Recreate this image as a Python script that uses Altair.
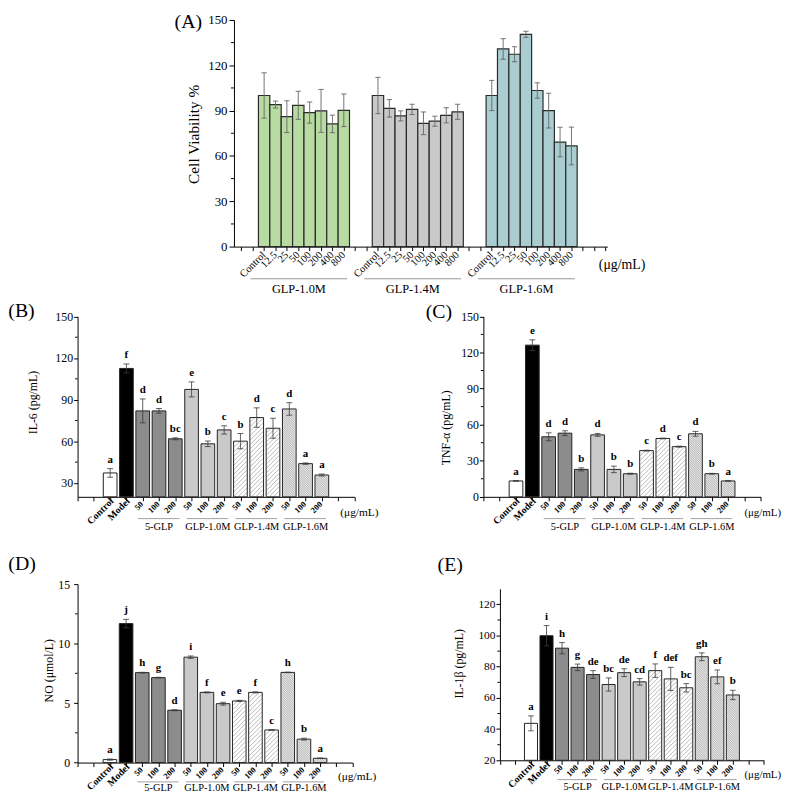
import math
import altair as alt
import pandas as pd

FONT = "Liberation Serif"

# ---------------- Panel A : cell viability ----------------
a_doses = ["Control", "12.5", "25", "50", "100", "200", "400", "800"]
a_groups = ["GLP-1.0M", "GLP-1.4M", "GLP-1.6M"]
a_colors = ["#b7dba1", "#c9c9c9", "#a9cdd1"]
a_val_10 = [100.0, 94.0, 86.0, 93.5, 88.7, 89.8, 81.2, 90.2]
a_err_10 = [15.0, 2.3, 10.5, 9.3, 7.0, 14.2, 5.8, 10.8]
a_val_14 = [100.0, 91.5, 86.5, 90.8, 81.6, 83.0, 86.9, 89.2]
a_err_14 = [12.0, 5.8, 3.3, 3.4, 7.5, 3.3, 5.0, 5.0]
a_val_16 = [100.0, 130.8, 127.3, 140.5, 103.3, 90.0, 69.2, 66.6]
a_err_16 = [10.0, 6.8, 5.0, 2.0, 5.1, 11.5, 9.8, 12.5]

# ---------------- Panels B-E ----------------
bar_labels = ["Control", "Model", "50", "100", "200", "50", "100", "200",
              "50", "100", "200", "50", "100", "200"]
bar_style = ["control", "model"] + ["g5"] * 3 + ["g10"] * 3 + ["g14"] * 3 + ["g16"] * 3
group_names = ["5-GLP", "GLP-1.0M", "GLP-1.4M", "GLP-1.6M"]

il6_val = [37.2, 112.5, 81.9, 81.9, 61.8, 97.4, 58.2, 68.2, 60.1, 77.1, 69.4, 83.3, 43.9, 35.7]
il6_err = [3.1, 3.2, 8.6, 1.7, 0.7, 5.4, 2.0, 3.0, 5.5, 7.0, 7.2, 4.5, 0.5, 0.7]
il6_sig = ["a", "f", "d", "d", "bc", "e", "b", "c", "b", "d", "c", "d", "a", "a"]

tnf_val = [13.2, 126.1, 49.9, 52.9, 22.8, 51.5, 22.8, 19.2, 38.4, 48.5, 41.7, 52.4, 19.2, 13.2]
tnf_err = [0.3, 4.4, 3.3, 2.0, 1.3, 1.2, 2.7, 0.4, 0.3, 0.3, 0.4, 2.0, 0.3, 0.2]
tnf_sig = ["a", "e", "d", "d", "b", "d", "b", "b", "c", "d", "c", "d", "b", "a"]

no_val = [0.25, 11.68, 7.56, 7.14, 4.40, 8.86, 5.90, 4.95, 5.18, 5.90, 2.74, 7.58, 1.97, 0.36]
no_err = [0.05, 0.36, 0.03, 0.03, 0.04, 0.10, 0.04, 0.12, 0.05, 0.04, 0.02, 0.02, 0.08, 0.02]
no_sig = ["a", "j", "h", "g", "d", "i", "f", "e", "e", "f", "c", "h", "b", "a"]

il1b_val = [43.7, 99.9, 91.9, 79.6, 75.0, 68.6, 76.2, 70.3, 77.5, 72.2, 66.5, 86.4, 73.5, 61.9]
il1b_err = [4.8, 6.5, 3.6, 2.1, 2.5, 4.2, 2.5, 2.1, 4.3, 7.4, 2.7, 2.5, 4.4, 3.0]
il1b_sig = ["a", "i", "h", "g", "de", "bc", "de", "cd", "f", "def", "bc", "gh", "ef", "b"]

FILL = {"control": "#ffffff", "model": "#000000", "g5": "#8c8c8c",
        "g10": "#c9c9c9", "g14": "#ffffff", "g16": "#e4e4e4"}
HATCH = {"g14": (4.5, 1, "#8a8a8a"), "g16": (2.3, -1, "#9a9a9a")}

# whole figure is one view; every panel has its own scales placed inside it
VW, VH = 693.4, 750.3


def yaxis(values, title, offset, tx, ty, lsize=12, tsize=12, tick=4, pad=1):
    return alt.Axis(orient="left", offset=offset, values=values, title=title,
                    titleX=tx, titleY=ty, titleAngle=270,
                    titleAlign="center", titleBaseline="middle", titleFont=FONT,
                    titleFontSize=tsize, titleFontWeight="normal", titleColor="black",
                    labelFont=FONT, labelFontSize=lsize, labelColor="black",
                    labelPadding=pad, labelFlush=False, labelOverlap=False,
                    tickSize=tick, tickColor="black", tickWidth=1,
                    domainColor="black", domainWidth=1, grid=False)


def xaxis(values, offset):
    return alt.Axis(orient="bottom", offset=offset, values=values, labels=False,
                    title=None, tickSize=4, tickColor="black", tickWidth=1,
                    domainColor="black", domainWidth=1, grid=False)


def hatch_rows(df, sx, sy, ymin):
    out = []
    for _, r in df.iterrows():
        spec = HATCH.get(r["style"])
        if spec is None:
            continue
        step, direction, col = spec
        u0, u1 = r["x0"] * sx + 0.6, r["x1"] * sx - 0.6
        v0, v1 = 0.6, (r["v"] - ymin) * sy - 0.6
        if v1 <= v0:
            continue
        if direction > 0:
            kmin = math.ceil((v0 - u1) / step)
            kmax = math.floor((v1 - u0) / step)
            for k in range(kmin, kmax + 1):
                c = k * step
                ua, ub = max(u0, v0 - c), min(u1, v1 - c)
                if ub - ua > 0.3:
                    out.append({"hx0": ua / sx, "hy0": ymin + (ua + c) / sy,
                                "hx1": ub / sx, "hy1": ymin + (ub + c) / sy, "hc": col})
        else:
            kmin = math.ceil((v0 + u0) / step)
            kmax = math.floor((v1 + u1) / step)
            for k in range(kmin, kmax + 1):
                c = k * step
                ua, ub = max(u0, c - v1), min(u1, c - v0)
                if ub - ua > 0.3:
                    out.append({"hx0": ua / sx, "hy0": ymin + (c - ua) / sy,
                                "hx1": ub / sx, "hy1": ymin + (c - ub) / sy, "hc": col})
    return pd.DataFrame(out)


def text_layer(txt, x, y, size, baseline="middle"):
    return alt.Chart(pd.DataFrame({"t": [txt]})).mark_text(
        font=FONT, fontSize=size, align="left", baseline=baseline,
        color="black").encode(text="t:N", x=alt.value(x), y=alt.value(y))


def build_a():
    xr, yr = (158.0, 535.2), (229.0, 0.0)
    xmin, xmax = 0.35, 33.15
    axy = yr[0]
    rows = []
    series = [(a_val_10, a_err_10), (a_val_14, a_err_14), (a_val_16, a_err_16)]
    for gi, (vals, errs) in enumerate(series):
        for di, dose in enumerate(a_doses):
            rows.append({"x": 3 + 10 * gi + di, "v": vals[di], "e": errs[di],
                         "fill": a_colors[gi], "lab": dose})
    df = pd.DataFrame(rows)
    df["x0"] = df["x"] - 0.5
    df["x1"] = df["x"] + 0.5
    df["base"] = 0.0
    df["lo"] = df["v"] - df["e"]
    df["hi"] = df["v"] + df["e"]
    df["c0"] = df["x"] - 0.23
    df["c1"] = df["x"] + 0.23

    xsc = alt.Scale(domain=[xmin, xmax], range=list(xr), nice=False, zero=False)
    ysc = alt.Scale(domain=[0, 150], range=list(yr), nice=False, zero=False)
    ax = xaxis(list(range(1, 34)), axy - VH)
    ay = yaxis([0, 30, 60, 90, 120, 150], "Cell Viability %", -xr[0], -41.3, 115,
               lsize=13, tsize=15.5, tick=5, pad=2)

    def X(f):
        return alt.X(f, scale=xsc, axis=ax)

    def Y(f):
        return alt.Y(f, scale=ysc, axis=ay)

    bars = alt.Chart(df).mark_rect(stroke="#2a2a2a", strokeWidth=1.2).encode(
        x=X("x0:Q"), x2="x1:Q", y=Y("v:Q"), y2="base:Q",
        color=alt.Color("fill:N", scale=None))
    ecol = "#666666"
    err = alt.Chart(df).mark_rule(color=ecol, strokeWidth=0.9).encode(
        x=X("x:Q"), y=Y("lo:Q"), y2="hi:Q")
    capt = alt.Chart(df).mark_rule(color=ecol, strokeWidth=0.9).encode(
        x=X("c0:Q"), x2="c1:Q", y=Y("hi:Q"))
    capb = alt.Chart(df).mark_rule(color=ecol, strokeWidth=0.9).encode(
        x=X("c0:Q"), x2="c1:Q", y=Y("lo:Q"))
    labs = alt.Chart(df).mark_text(font=FONT, fontSize=10.5, angle=315, align="right",
                                   baseline="middle", color="black").encode(
        x=X("x:Q"), y=alt.value(axy + 7), text="lab:N")
    gdf = pd.DataFrame({"g": a_groups, "first": [3, 13, 23], "last": [10, 20, 30]})
    gdf["g0"] = gdf["first"] - 1.2
    gdf["g1"] = gdf["last"] + 0.3
    gdf["gc"] = (gdf["g0"] + gdf["g1"]) / 2
    glines = alt.Chart(gdf).mark_rule(color="#8a8a8a", strokeWidth=0.9).encode(
        x=X("g0:Q"), x2="g1:Q", y=alt.value(axy + 32.5))
    glabs = alt.Chart(gdf).mark_text(font=FONT, fontSize=12.5, color="black").encode(
        x=X("gc:Q"), y=alt.value(axy + 43), text="g:N")
    udf = pd.DataFrame({"t": ["(μg/mL)"], "ux": [32.4]})
    unit = alt.Chart(udf).mark_text(font=FONT, fontSize=14, align="left",
                                    baseline="middle", color="black").encode(
        x=X("ux:Q"), y=alt.value(axy + 19), text="t:N")
    mdf = pd.DataFrame({"m": [15, 45, 75, 105, 135]})
    minor = alt.Chart(mdf).mark_rule(color="black", strokeWidth=1).encode(
        y=Y("m:Q"), x=alt.value(xr[0]), x2=alt.value(xr[0] - 3))
    letter = text_layer("(A)", 98.0, -8, 20, baseline="top")
    return alt.layer(bars, err, capt, capb, labs, glines, glabs, unit, minor, letter)


def build_panel(vals, errs, sigs, P):
    xr, yr = P["xr"], P["yr"]
    ymin, ymax = P["ydom"]
    axy = yr[0]
    sx = (xr[1] - xr[0]) / 17.0
    sy = (yr[0] - yr[1]) / (ymax - ymin)
    df = pd.DataFrame({"x": [2 + i for i in range(len(vals))], "v": vals, "e": errs,
                       "sig": sigs, "style": bar_style, "lab": bar_labels})
    df["x0"] = df["x"] - 0.42
    df["x1"] = df["x"] + 0.42
    df["base"] = ymin
    df["lo"] = df["v"] - df["e"]
    df["hi"] = df["v"] + df["e"]
    df["c0"] = df["x"] - 0.18
    df["c1"] = df["x"] + 0.18
    df["fill"] = df["style"].map(FILL)

    xsc = alt.Scale(domain=[0, 17], range=list(xr), nice=False, zero=False)
    ysc = alt.Scale(domain=[ymin, ymax], range=list(yr), nice=False, zero=False)
    ax = xaxis(list(range(0, 18)), axy - VH)
    ay = yaxis(P["major"], P["title"], -xr[0], P["tx"], P["ty"],
               lsize=P.get("lsize", 12), pad=P.get("pad", 1))

    def X(f):
        return alt.X(f, scale=xsc, axis=ax)

    def Y(f):
        return alt.Y(f, scale=ysc, axis=ay)

    bars = alt.Chart(df).mark_rect(strokeWidth=0).encode(
        x=X("x0:Q"), x2="x1:Q", y=Y("v:Q"), y2="base:Q",
        color=alt.Color("fill:N", scale=None))
    hd = hatch_rows(df, sx, sy, ymin)
    hatch = alt.Chart(hd).mark_rule(strokeWidth=0.6).encode(
        x=X("hx0:Q"), x2="hx1:Q", y=Y("hy0:Q"), y2="hy1:Q",
        color=alt.Color("hc:N", scale=None))
    outline = alt.Chart(df).mark_rect(fillOpacity=0, stroke="#222222", strokeWidth=1).encode(
        x=X("x0:Q"), x2="x1:Q", y=Y("v:Q"), y2="base:Q")
    ecol = "#3a3a3a"
    err = alt.Chart(df).mark_rule(color=ecol, strokeWidth=0.8).encode(
        x=X("x:Q"), y=Y("lo:Q"), y2="hi:Q")
    capt = alt.Chart(df).mark_rule(color=ecol, strokeWidth=0.8).encode(
        x=X("c0:Q"), x2="c1:Q", y=Y("hi:Q"))
    capb = alt.Chart(df).mark_rule(color=ecol, strokeWidth=0.8).encode(
        x=X("c0:Q"), x2="c1:Q", y=Y("lo:Q"))
    letters = alt.Chart(df).mark_text(font=FONT, fontSize=11, fontWeight="bold",
                                      baseline="bottom", dy=-4, color="black").encode(
        x=X("x:Q"), y=Y("hi:Q"), text="sig:N")

    main = df[df["style"].isin(["control", "model"])].copy()
    main["lx"] = main["x"] + 2.0 / sx
    dose = df[~df["style"].isin(["control", "model"])].copy()
    dose["lx"] = dose["x"] - 1.0 / sx
    lab_main = alt.Chart(main).mark_text(font=FONT, fontSize=10, fontWeight="bold",
                                         angle=315, align="right", baseline="middle",
                                         color="black").encode(
        x=X("lx:Q"), y=alt.value(axy + 3), text="lab:N")
    lab_dose = alt.Chart(dose).mark_text(font=FONT, fontSize=8.5, fontWeight="bold",
                                         angle=315, align="right", baseline="middle",
                                         color="black").encode(
        x=X("lx:Q"), y=alt.value(axy + 6), text="lab:N")

    gdf = pd.DataFrame({"g": group_names, "first": [4, 7, 10, 13], "last": [6, 9, 12, 15]})
    gdf["g0"] = gdf["first"] - 0.3
    gdf["g1"] = gdf["last"] + 0.25
    gdf["gc"] = (gdf["first"] + gdf["last"]) / 2
    glines = alt.Chart(gdf).mark_rule(color="#8a8a8a", strokeWidth=0.8).encode(
        x=X("g0:Q"), x2="g1:Q", y=alt.value(axy + P["gl"]))
    glabs = alt.Chart(gdf).mark_text(font=FONT, fontSize=10.5, color="black").encode(
        x=X("gc:Q"), y=alt.value(axy + P["gt"]), text="g:N")
    udf = pd.DataFrame({"t": ["(μg/mL)"], "ux": [P["ux"]]})
    unit = alt.Chart(udf).mark_text(font=FONT, fontSize=P.get("ufs", 12), align="left",
                                    baseline="middle", color="black").encode(
        x=X("ux:Q"), y=alt.value(axy + P["uy"]), text="t:N")
    mdf = pd.DataFrame({"m": P["minor"]})
    minor = alt.Chart(mdf).mark_rule(color="black", strokeWidth=1).encode(
        y=Y("m:Q"), x=alt.value(xr[0]), x2=alt.value(xr[0] - 2.5))
    letter = text_layer(P["letter"], P["lxy"][0], P["lxy"][1], 20)
    return alt.layer(bars, hatch, outline, err, capt, capb, letters, lab_main, lab_dose,
                     glines, glabs, unit, minor, letter)


panel_a = build_a()
panel_b = build_panel(il6_val, il6_err, il6_sig, {
    "xr": (0.0, 279.7), "yr": (481.8, 299.5), "ydom": (20, 150),
    "major": [30, 60, 90, 120, 150], "minor": [45, 75, 105, 135],
    "title": "IL-6 (pg/mL)", "tx": -45, "ty": 386, "letter": "(B)", "lxy": (-70, 294),
    "ux": 16.13, "uy": 16.3, "gl": 22, "gt": 30.5, "ufs": 11.5})
panel_c = build_panel(tnf_val, tnf_err, tnf_sig, {
    "xr": (410.0, 690.2), "yr": (481.8, 299.5), "ydom": (0, 150),
    "major": [0, 30, 60, 90, 120, 150], "minor": [15, 45, 75, 105, 135],
    "title": "TNF-α (pg/mL)", "tx": -38, "ty": 411.5, "letter": "(C)", "lxy": (351.7, 295),
    "ux": 16.0, "uy": 16.5, "gl": 22, "gt": 30.5, "ufs": 11})
panel_d = build_panel(no_val, no_err, no_sig, {
    "xr": (0.0, 277.7), "yr": (750.3, 570.0), "ydom": (0, 15),
    "major": [0, 5, 10, 15], "minor": [2.5, 7.5, 12.5],
    "title": "NO (μmol/L)", "tx": -29.3, "ty": 657, "pad": 4,
    "letter": "(D)", "lxy": (-70, 550), "ux": 16.1, "uy": 14.4, "gl": 19.5, "gt": 26,
    "ufs": 11.5})
panel_e = build_panel(il1b_val, il1b_err, il1b_sig, {
    "xr": (426.7, 693.4), "yr": (748.0, 574.7), "ydom": (20, 130),
    "major": [20, 40, 60, 80, 100, 120], "minor": [30, 50, 70, 90, 110],
    "title": "IL-1β (pg/mL)", "tx": -42, "ty": 650, "lsize": 11.5,
    "letter": "(E)", "lxy": (363.7, 551), "ux": 15.75, "uy": 15, "gl": 19.5, "gt": 27,
    "ufs": 11})

chart = alt.layer(panel_a, panel_b, panel_c, panel_d, panel_e).resolve_scale(
    x="independent", y="independent").resolve_axis(
    x="independent", y="independent").properties(
    width=VW, height=VH, background="white",
    padding={"left": 70.3, "top": 8, "right": 19.3, "bottom": 29.7},
    autosize=alt.AutoSizeParams(type="none")).configure_view(stroke=None)

chart.save("out.html", embed_options={"renderer": "svg", "actions": False})
